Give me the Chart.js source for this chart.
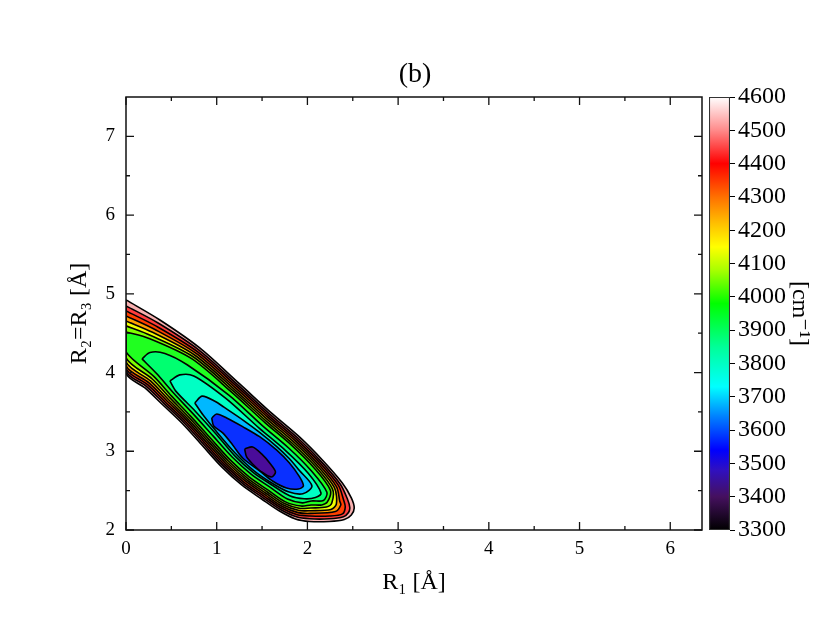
<!DOCTYPE html>
<html>
<head>
<meta charset="utf-8">
<script src="https://cdn.jsdelivr.net/npm/chart.js@4.4.1/dist/chart.umd.min.js"></script>
<style>
  html, body { margin: 0; padding: 0; background: #fff; }
  #wrap { position: relative; width: 830px; height: 625px; }
  #wrap canvas { position: absolute; left: 0; top: 0; }
</style>
</head>
<body>
<div id="wrap">
  <canvas id="map" width="830" height="625"></canvas>
  <canvas id="bar" width="830" height="625"></canvas>
</div>
<script>
// contour levels in cm-1, and the colour of the band just below each level
const levels = [3500, 3600, 3700, 3800, 3900, 4000, 4100, 4200, 4300, 4400, 4500, 4600];
const bandColors = ['#4a0c9a', '#0a30ff', '#00b8ff', '#00ffc4', '#00ff70', '#20ff20',
                    '#80ff00', '#f0ff00', '#ffa000', '#ff4000', '#ff3c3c', '#f8b0b0'];

// contour paths, [R1, R2=R3] in Angstrom
const c3500 = [[1.308,3.029],[1.396,3.055],[1.495,2.966],[1.593,2.839],[1.648,2.737],[1.604,2.673],
  [1.495,2.737],[1.396,2.839],[1.33,2.928]];
const c3600 = [[0.945,3.423],[1.0,3.474],[1.110,3.423],[1.286,3.313],[1.473,3.185],[1.659,3.017],
  [1.802,2.851],[1.912,2.677],[1.956,2.56],[1.901,2.52],[1.769,2.534],[1.615,2.623],[1.473,2.750],
  [1.286,2.915],[1.176,3.080],[1.066,3.233],[0.967,3.321]];
const c3700 = [[0.758,3.614],[0.84,3.70],[0.98,3.635],[1.08,3.56],[1.286,3.40],[1.473,3.24],
  [1.659,3.062],[1.802,2.905],[1.912,2.755],[2.05,2.56],[1.95,2.46],[1.79,2.485],[1.616,2.59],
  [1.408,2.755],[1.197,2.985],[0.99,3.26],[0.85,3.46]];
const c3800 = [[0.484,3.893],[0.593,3.970],[0.747,3.957],[1.104,3.669],[1.474,3.288],[1.762,3.006],
  [2.011,2.718],[2.150,2.470],[2.088,2.413],[1.965,2.397],[1.804,2.436],[1.617,2.565],[1.408,2.725],
  [1.197,2.945],[0.990,3.223],[0.764,3.509],[0.549,3.764]];
const c3900 = [[0.176,4.173],[0.264,4.255],[0.429,4.243],[0.674,4.099],[1.137,3.711],[1.503,3.326],
  [1.793,3.042],[2.042,2.753],[2.215,2.480],[2.176,2.375],[2.045,2.369],[1.945,2.345],[1.780,2.394],
  [1.591,2.542],[1.382,2.708],[1.170,2.928],[0.962,3.192],[0.738,3.478],[0.527,3.737],[0.337,3.987]];
const c4000 = [[0,4.516],[0.254,4.433],[0.724,4.176],[1.167,3.748],[1.532,3.364],[1.824,3.078],
  [2.074,2.788],[2.253,2.506],[2.220,2.356],[2.159,2.318],[2.040,2.318],[1.930,2.304],[1.758,2.357],
  [1.567,2.506],[1.356,2.675],[1.142,2.897],[0.934,3.162],[0.711,3.446],[0.500,3.704],[0.309,3.948],[0,4.262]];
const c4100 = [[0,4.593],[0.273,4.471],[0.740,4.201],[1.182,3.767],[1.546,3.383],[1.839,3.096],
  [2.090,2.806],[2.276,2.522],[2.269,2.343],[2.209,2.292],[2.037,2.280],[1.919,2.274],[1.746,2.336],
  [1.554,2.486],[1.341,2.657],[1.126,2.880],[0.918,3.145],[0.695,3.428],[0.482,3.681],[0.289,3.918],[0,4.186]];
const c4200 = [[0,4.656],[0.293,4.511],[0.755,4.223],[1.196,3.784],[1.560,3.402],[1.854,3.113],
  [2.105,2.822],[2.298,2.537],[2.319,2.330],[2.258,2.260],[2.034,2.245],[1.908,2.248],[1.735,2.317],
  [1.542,2.467],[1.328,2.640],[1.112,2.864],[0.904,3.129],[0.681,3.412],[0.465,3.660],[0.271,3.893],[0,4.135]];
const c4300 = [[0,4.720],[0.314,4.550],[0.769,4.246],[1.210,3.802],[1.574,3.420],[1.868,3.131],
  [2.120,2.839],[2.320,2.552],[2.356,2.369],[2.368,2.318],[2.308,2.235],[2.031,2.211],[1.898,2.221],
  [1.725,2.298],[1.531,2.449],[1.315,2.623],[1.098,2.848],[0.889,3.114],[0.668,3.396],[0.450,3.642],
  [0.254,3.868],[0,4.090]];
const c4400 = [[0,4.783],[0.334,4.589],[0.784,4.268],[1.225,3.820],[1.587,3.438],[1.883,3.148],
  [2.135,2.856],[2.342,2.567],[2.399,2.382],[2.417,2.291],[2.387,2.205],[2.242,2.177],[2.028,2.177],
  [1.888,2.194],[1.714,2.279],[1.519,2.431],[1.301,2.606],[1.083,2.833],[0.875,3.098],[0.654,3.379],
  [0.435,3.623],[0.238,3.846],[0,4.052]];
const c4500 = [[0,4.847],[0.354,4.629],[0.798,4.291],[1.239,3.837],[1.601,3.456],[1.897,3.165],
  [2.150,2.872],[2.363,2.582],[2.441,2.394],[2.467,2.286],[2.453,2.223],[2.397,2.169],[2.242,2.142],
  [2.025,2.142],[1.878,2.167],[1.703,2.260],[1.507,2.412],[1.288,2.589],[1.069,2.817],[0.860,3.083],
  [0.640,3.363],[0.421,3.606],[0.224,3.825],[0,4.020]];
const c4600 = [[0,4.923],[0.374,4.668],[0.813,4.313],[1.253,3.855],[1.615,3.474],[1.912,3.182],
  [2.165,2.889],[2.385,2.597],[2.484,2.407],[2.516,2.280],[2.484,2.191],[2.407,2.133],[2.242,2.108],
  [2.022,2.108],[1.868,2.140],[1.692,2.241],[1.495,2.394],[1.275,2.572],[1.055,2.801],[0.846,3.067],
  [0.626,3.347],[0.407,3.588],[0.209,3.804],[0,3.995]];
const contours = [c3500, c3600, c3700, c3800, c3900, c4000, c4100, c4200, c4300, c4400, c4500, c4600];

// axes
const xTicks = [0, 1, 2, 3, 4, 5, 6];
const xMinor = [0.5, 1.5, 2.5, 3.5, 4.5, 5.5];
const yTicks = [2, 3, 4, 5, 6, 7];
const yMinor = [2.5, 3.5, 4.5, 5.5, 6.5];

// colour bar
const cbTicks = [3300, 3400, 3500, 3600, 3700, 3800, 3900, 4000, 4100, 4200, 4300, 4400, 4500, 4600];
const cbStopValues = [3300, 3400, 3480, 3540, 3640, 3730, 3850, 3980, 4080, 4150, 4220, 4300, 4400, 4500, 4600];
const cbStopColors = ['#000000', '#45105f', '#3010c0', '#0000ff', '#0080ff', '#00ffff', '#00ff98', '#00ff00',
                      '#a8ff00', '#ffff00', '#ffc000', '#ff7000', '#ff0000', '#ff8a8a', '#ffffff'];

const serif = "'Liberation Serif', 'DejaVu Serif', serif";
Chart.defaults.font.family = serif;
Chart.defaults.color = '#000';

const datasets = levels.map((level, i) => {
  const pts = contours[i].map(([x, y]) => ({ x: x, y: y }));
  pts.push({ x: pts[0].x, y: pts[0].y });
  return {
    label: level + ' cm-1',
    data: pts,
    showLine: true,
    borderColor: '#000',
    borderWidth: 1.6,
    pointRadius: 0,
    tension: 0.3,
    fill: false
  };
});

// fill every contour polygon (outermost first) with its band colour, using the line element path
const contourFill = {
  id: 'contourFill',
  beforeDatasetsDraw(chart) {
    const ctx = chart.ctx, a = chart.chartArea;
    ctx.save();
    ctx.beginPath();
    ctx.rect(a.left, a.top, a.right - a.left, a.bottom - a.top);
    ctx.clip();
    for (let i = chart.data.datasets.length - 1; i >= 0; i--) {
      const line = chart.getDatasetMeta(i).dataset;
      if (!line) continue;
      line.updateControlPoints(a, 'x');
      ctx.beginPath();
      line.path(ctx);
      ctx.closePath();
      ctx.fillStyle = bandColors[i];
      ctx.fill();
    }
    ctx.restore();
  }
};

// box round the plot with ticks pointing inwards on all four sides
const frameTicks = {
  id: 'frameTicks',
  afterDraw(chart) {
    const ctx = chart.ctx, a = chart.chartArea;
    const sx = chart.scales.x, sy = chart.scales.y;
    ctx.save();
    ctx.strokeStyle = '#111';
    ctx.lineWidth = 1.3;
    ctx.beginPath();
    const vert = (vals, len) => vals.forEach(v => {
      const px = sx.getPixelForValue(v);
      ctx.moveTo(px, a.bottom); ctx.lineTo(px, a.bottom - len);
      ctx.moveTo(px, a.top); ctx.lineTo(px, a.top + len);
    });
    const horz = (vals, len) => vals.forEach(v => {
      const py = sy.getPixelForValue(v);
      ctx.moveTo(a.left, py); ctx.lineTo(a.left + len, py);
      ctx.moveTo(a.right, py); ctx.lineTo(a.right - len, py);
    });
    vert(xTicks, 8); vert(xMinor, 4);
    horz(yTicks, 8); horz(yMinor, 4);
    ctx.stroke();
    ctx.lineWidth = 1.5;
    ctx.strokeRect(a.left, a.top, a.right - a.left, a.bottom - a.top);
    ctx.restore();
  }
};

new Chart(document.getElementById('map'), {
  type: 'scatter',
  data: { datasets: datasets },
  options: {
    responsive: false,
    animation: false,
    events: [],
    plugins: {
      legend: { display: false },
      tooltip: { enabled: false },
      title: {
        display: true, text: '(b)', color: '#000',
        font: { size: 28, weight: 'normal' },
        padding: { top: 58, bottom: 5.4 }
      }
    },
    scales: {
      x: {
        type: 'linear', position: 'bottom', min: 0, max: 6.35,
        afterBuildTicks: s => { s.ticks = xTicks.map(v => ({ value: v })); },
        ticks: { font: { size: 19 }, padding: 8, maxRotation: 0, autoSkip: false },
        grid: { display: false, drawTicks: false },
        border: { display: false },
        title: { display: true, text: 'R₁ [Å]', font: { size: 24 }, padding: { top: 0, bottom: 28 } },
        afterFit: s => { s.height = 95; }
      },
      y: {
        type: 'linear', position: 'left', min: 2, max: 7.5,
        afterBuildTicks: s => { s.ticks = yTicks.map(v => ({ value: v })); },
        ticks: { font: { size: 19 }, padding: 11, autoSkip: false },
        grid: { display: false, drawTicks: false },
        border: { display: false },
        title: { display: true, text: 'R₂=R₃ [Å]', font: { size: 24 }, padding: { top: 65, bottom: 0 } },
        afterFit: s => { s.width = 126; }
      },
      y2: {
        type: 'linear', position: 'right',
        ticks: { display: false },
        grid: { display: false, drawTicks: false },
        border: { display: false },
        afterFit: s => { s.width = 128; }
      }
    }
  },
  plugins: [contourFill, frameTicks]
});

// colour bar
new Chart(document.getElementById('bar'), {
  type: 'bar',
  data: {
    labels: [''],
    datasets: [{
      data: [[cbTicks[0], cbTicks[cbTicks.length - 1]]],
      backgroundColor: c => {
        const chart = c.chart, sy = chart.scales.y;
        if (!chart.chartArea || !sy) return '#888';
        const lo = cbStopValues[0], hi = cbStopValues[cbStopValues.length - 1];
        const g = chart.ctx.createLinearGradient(0, sy.getPixelForValue(hi), 0, sy.getPixelForValue(lo));
        cbStopValues.forEach((v, i) => g.addColorStop((hi - v) / (hi - lo), cbStopColors[i]));
        return g;
      },
      borderColor: '#333',
      borderWidth: 1.4,
      borderSkipped: false,
      barPercentage: 1,
      categoryPercentage: 1
    }]
  },
  options: {
    responsive: false,
    animation: false,
    events: [],
    layout: { padding: { left: 709, top: 97, bottom: 95, right: 0 } },
    plugins: { legend: { display: false }, tooltip: { enabled: false } },
    scales: {
      x: { display: false },
      y: {
        position: 'right', min: 3300, max: 4600,
        afterBuildTicks: s => { s.ticks = cbTicks.map(v => ({ value: v })); },
        ticks: { font: { size: 24 }, padding: 3, autoSkip: false, callback: v => String(v) },
        grid: { drawOnChartArea: false, tickLength: 5, color: '#000', lineWidth: 1 },
        border: { display: false },
        title: { display: true, text: '[cm⁻¹]', font: { size: 24 }, padding: { top: 16, bottom: 0 } },
        afterFit: s => { s.width = 100; }
      }
    }
  }
});
</script>
</body>
</html>
